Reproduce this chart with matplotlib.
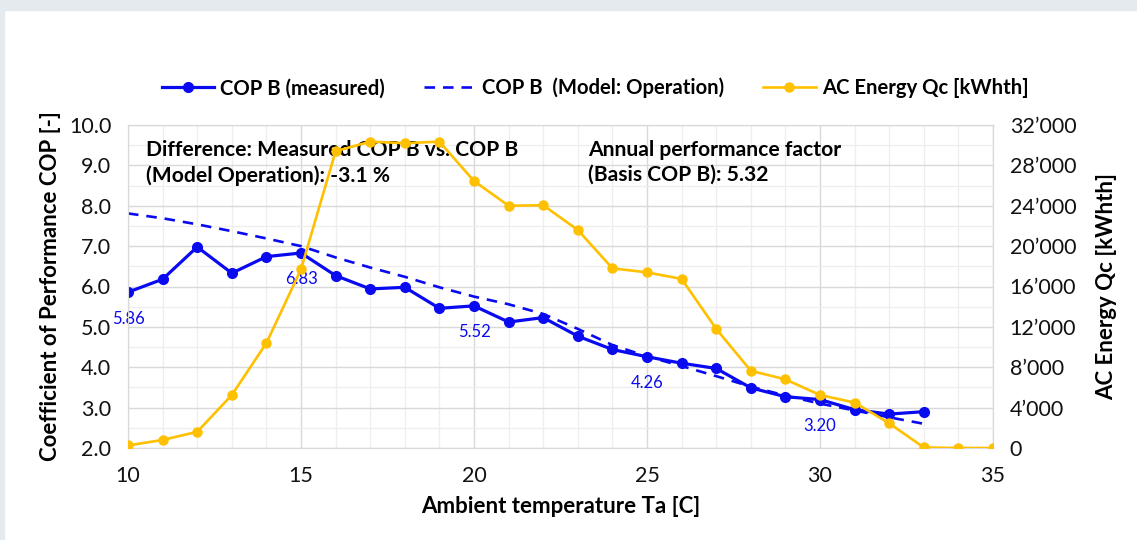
import numpy as np
import matplotlib.pyplot as plt
from matplotlib.ticker import MultipleLocator, FuncFormatter
from matplotlib.patches import Rectangle

plt.rcParams['font.family'] = ['Lato', 'DejaVu Sans']

# ambient temperature [C]
temp_cop = list(range(10, 34))
temp_qc = list(range(10, 36))

cop_measured = [5.86, 6.18, 6.98, 6.33, 6.74, 6.83, 6.27, 5.94, 5.98, 5.46,
                5.52, 5.12, 5.23, 4.77, 4.44, 4.26, 4.10, 3.97, 3.49, 3.27,
                3.20, 2.95, 2.84, 2.90]
cop_model = [7.81, 7.69, 7.54, 7.37, 7.19, 7.00, 6.72, 6.47, 6.24, 5.98,
             5.75, 5.56, 5.32, 4.95, 4.55, 4.27, 4.03, 3.78, 3.52, 3.30,
             3.10, 2.93, 2.76, 2.60]
qc_energy = [250, 800, 1600, 5250, 10400, 17700, 29400, 30350, 30200, 30350,
             26450, 24000, 24050, 21600, 17800, 17400, 16750, 11800, 7650, 6800,
             5250, 4500, 2450, 50, 0, 0]

label_temps = [10, 15, 20, 25, 30]

BLUE = '#0a0af0'
ORANGE = '#ffc000'

fig = plt.figure(figsize=(11.37, 5.4), dpi=100)
fig.patch.set_facecolor('white')
fig.patches.append(Rectangle((0, 1 - 10/540), 1, 10/540, transform=fig.transFigure,
                             color='#e5eaee', zorder=0))
fig.patches.append(Rectangle((0, 0), 4/1137, 1, transform=fig.transFigure,
                             color='#e5eaee', zorder=0))

ax = fig.add_axes([128/1137, 1 - 448/540, (993 - 128)/1137, (448 - 125)/540])
ax2 = ax.twinx()

l1, = ax.plot(temp_cop, cop_measured, color=BLUE, lw=2.3, marker='o', ms=7,
              label='COP B (measured)', zorder=3)
l2, = ax.plot(temp_cop, cop_model, color=BLUE, lw=1.9, ls=(0, (4, 3)),
              label='COP B  (Model: Operation)', zorder=2)
l3, = ax2.plot(temp_qc, qc_energy, color=ORANGE, lw=1.9, marker='o', ms=6.5,
               label='AC Energy Qc [kWhth]', zorder=3)

for t in label_temps:
    v = cop_measured[temp_cop.index(t)]
    ax.annotate(f'{v:.2f}', (t, v), xytext=(0, -19), textcoords='offset points',
                ha='center', va='center', color=BLUE, fontsize=12,
                annotation_clip=False)

ax.set_xlim(10, 35)
ax.set_ylim(2, 10)
ax2.set_ylim(0, 32000)

ax.xaxis.set_major_locator(MultipleLocator(5))
ax.xaxis.set_minor_locator(MultipleLocator(1))
ax.yaxis.set_major_locator(MultipleLocator(1))
ax.yaxis.set_minor_locator(MultipleLocator(0.5))
ax.yaxis.set_major_formatter(FuncFormatter(lambda v, p: f'{v:.1f}'))
ax2.yaxis.set_major_locator(MultipleLocator(4000))
ax2.yaxis.set_major_formatter(FuncFormatter(lambda v, p: f'{int(v):,}'.replace(',', '\u2019')))

ax.grid(which='major', color='#d9d9d9', lw=1.0, zorder=0)
ax.grid(which='minor', color='#eeeeee', lw=0.9, zorder=0)
ax.set_axisbelow(True)

for a in (ax, ax2):
    for s in a.spines.values():
        s.set_color('#d9d9d9')
    a.tick_params(which='both', length=0, labelsize=15.5, colors='#111111')
ax.tick_params(axis='y', pad=12)
ax.tick_params(axis='x', pad=13)
ax2.tick_params(axis='y', pad=12)

ax.set_xlabel('Ambient temperature Ta [C]', fontsize=16, fontweight='bold', labelpad=7)
ax.set_ylabel('Coefficient of Performance COP [-]', fontsize=16, fontweight='bold', labelpad=6)
ax2.set_ylabel('AC Energy Qc [kWhth]', fontsize=16, fontweight='bold', labelpad=14)

ax.text(0.021, 0.955, 'Difference: Measured COP B vs. COP B\n(Model Operation): -3.1 %',
        transform=ax.transAxes, ha='left', va='top', fontsize=15.2, fontweight='bold',
        linespacing=1.35, zorder=5)
ax.text(0.532, 0.955, 'Annual performance factor\n(Basis COP B): 5.32',
        transform=ax.transAxes, ha='left', va='top', fontsize=15.2, fontweight='bold',
        linespacing=1.35, zorder=5)

fig.legend(handles=[l1, l2, l3], loc='center', bbox_to_anchor=(595/1137, 1 - 88/540),
           ncol=3, frameon=False, prop={'size': 14.6, 'weight': 'bold'},
           handlelength=2.6, columnspacing=1.9, handletextpad=0.3)

fig.savefig('out.png', dpi=100)
